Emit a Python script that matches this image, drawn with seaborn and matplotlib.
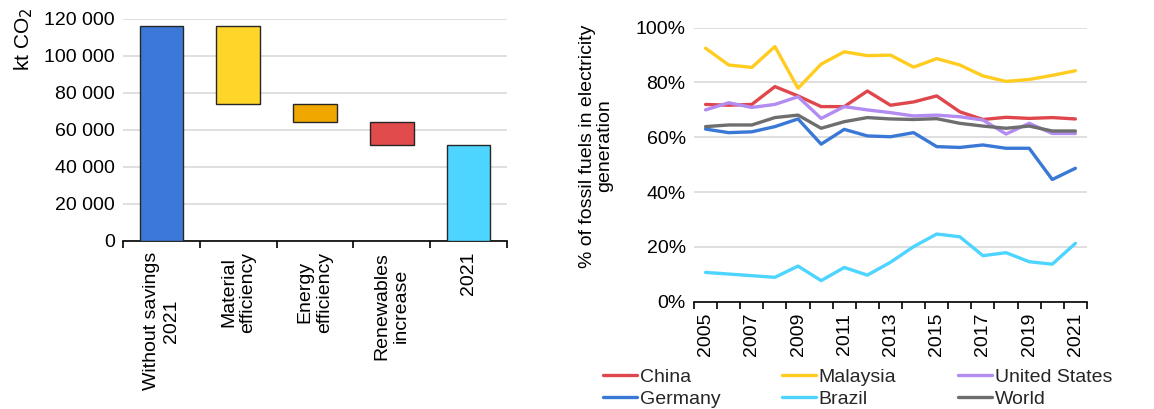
import matplotlib
matplotlib.use("Agg")
import matplotlib.pyplot as plt
import matplotlib.ticker as mticker
import pandas as pd
import seaborn as sns

# waterfall (kt CO2)
steps = ["Without savings\n2021", "Material\nefficiency", "Energy\nefficiency",
         "Renewables\nincrease", "2021"]
step_top = [116200, 116200, 73700, 64300, 51700]
step_bottom = [0, 73700, 64300, 51700, 0]
step_colors = ["#3C78D8", "#FFD52A", "#F0A800", "#E24B4B", "#4DD4FF"]

# fossil share in electricity generation
years = list(range(2005, 2022))
china = [72.0, 71.7, 72.0, 78.5, 75.1, 71.2, 71.2, 76.9, 71.7, 72.9, 75.1, 69.3, 66.5, 67.3, 66.9, 67.2, 66.7]
malaysia = [92.5, 86.4, 85.5, 93.1, 77.9, 86.7, 91.2, 89.8, 90.0, 85.6, 88.7, 86.4, 82.4, 80.4, 81.1, 82.6, 84.3]
united_states = [70.0, 72.6, 70.9, 72.0, 74.8, 66.9, 71.2, 70.0, 69.0, 67.8, 68.1, 67.5, 66.3, 61.2, 65.1, 61.4, 61.4]
germany = [63.0, 61.7, 62.0, 63.9, 66.7, 57.5, 62.9, 60.5, 60.2, 61.7, 56.6, 56.3, 57.2, 56.0, 56.0, 44.6, 48.7]
brazil = [10.7, 10.1, 9.5, 8.9, 13.0, 7.7, 12.5, 9.7, 14.4, 20.1, 24.7, 23.7, 16.8, 17.9, 14.6, 13.7, 21.3]
world = [63.9, 64.5, 64.5, 67.2, 68.1, 63.3, 65.7, 67.2, 66.7, 66.5, 66.8, 65.1, 64.1, 63.3, 64.1, 62.3, 62.3]

line_colors = {"China": "#E0474C", "Malaysia": "#FFCC1F", "United States": "#B38CF2",
               "Germany": "#3A78D6", "Brazil": "#4DD4FF", "World": "#6E6E6E"}

sns.set_theme(style="white")
plt.rcParams["font.family"] = ["Liberation Sans", "DejaVu Sans"]
FS = 14

fig = plt.figure(figsize=(11.54, 4.09), dpi=100)
ax1 = fig.add_axes([0.1066, 0.4115, 0.3327, 0.5428])
ax2 = fig.add_axes([0.6014, 0.2623, 0.3405, 0.6700])

# ---- waterfall
wf = pd.DataFrame({"step": steps,
                   "height": [t - b for t, b in zip(step_top, step_bottom)]})
sns.barplot(data=wf, x="step", y="height", ax=ax1, width=0.57,
            edgecolor="#262626", linewidth=1.0, zorder=3)
for patch, b, c in zip(ax1.patches, step_bottom, step_colors):
    patch.set_y(b)
    patch.set_facecolor(c)

ax1.set_ylim(0, 120000)
ax1.set_xlim(-0.5, len(steps) - 0.5)
ax1.yaxis.set_major_locator(mticker.MultipleLocator(20000))
ax1.yaxis.set_major_formatter(
    mticker.FuncFormatter(lambda v, p: f"{int(v):,}".replace(",", " ")))
ax1.grid(axis="y", color="#D9D9D9", linewidth=1.2, zorder=0)
ax1.set_axisbelow(True)
for s in ["top", "right", "left"]:
    ax1.spines[s].set_visible(False)
ax1.spines["bottom"].set_color("black")
ax1.spines["bottom"].set_linewidth(1.2)
ax1.set_xlabel("")
ax1.set_ylabel("kt CO$_2$", fontsize=FS + 1, color="black")
ax1.yaxis.set_label_coords(-0.228, 0.905)
ax1.tick_params(axis="y", length=0, labelsize=FS, labelcolor="black", pad=6)
ax1.set_xticks(range(len(steps)))
ax1.set_xticklabels(steps, rotation=90, fontsize=FS, color="black",
                    ha="center", va="top", multialignment="center")
ax1.tick_params(axis="x", which="major", length=0, pad=8)
ax1.set_xticks([i - 0.5 for i in range(len(steps) + 1)], minor=True)
ax1.tick_params(axis="x", which="minor", length=5, width=1.2, color="black",
                direction="out", bottom=True)

# ---- fossil share lines
share = pd.DataFrame({
    "year": years * 6,
    "country": sum([[c] * len(years) for c in
                    ["China", "Malaysia", "United States", "Germany", "Brazil", "World"]], []),
    "share": china + malaysia + united_states + germany + brazil + world,
})
share["share"] = share["share"] / 100
sns.lineplot(data=share, x="year", y="share", hue="country", palette=line_colors,
             linewidth=2.4, ax=ax2, legend=False, zorder=3)
ax2.set_xlim(years[0] - 0.5, years[-1] + 0.5)
ax2.set_ylim(0, 1.0)
ax2.yaxis.set_major_locator(mticker.MultipleLocator(0.2))
ax2.yaxis.set_major_formatter(mticker.PercentFormatter(1.0, decimals=0))
ax2.grid(axis="y", color="#D9D9D9", linewidth=1.2, zorder=0)
for s in ["top", "right", "left"]:
    ax2.spines[s].set_visible(False)
ax2.spines["bottom"].set_color("black")
ax2.spines["bottom"].set_linewidth(1.2)
ax2.set_xlabel("")
ax2.set_ylabel("% of fossil fuels in electricity\ngeneration", fontsize=FS,
               color="black", linespacing=1.0)
ax2.yaxis.set_label_coords(-0.206, 0.568)
ax2.tick_params(axis="y", length=0, labelsize=FS, labelcolor="black", pad=6)
ax2.set_xticks(years[::2])
ax2.set_xticklabels([str(y) for y in years[::2]], rotation=90, fontsize=FS,
                    color="black")
ax2.tick_params(axis="x", which="major", length=0, pad=8)
ax2.set_xticks([y - 0.5 for y in years] + [years[-1] + 0.5], minor=True)
ax2.tick_params(axis="x", which="minor", length=5, width=1.2, color="black",
                direction="out", bottom=True)

order = ["China", "Germany", "Malaysia", "Brazil", "United States", "World"]
handles = [plt.Line2D([], [], color=line_colors[c], linewidth=2.4) for c in order]
fig.legend(handles, order, loc="upper left", bbox_to_anchor=(0.5225, 0.10),
           ncol=3, frameon=False, fontsize=FS, handlelength=1.75,
           handletextpad=0.15, columnspacing=3.15, labelspacing=0.24,
           borderpad=0, borderaxespad=0)

fig.savefig("out.png", dpi=100)
